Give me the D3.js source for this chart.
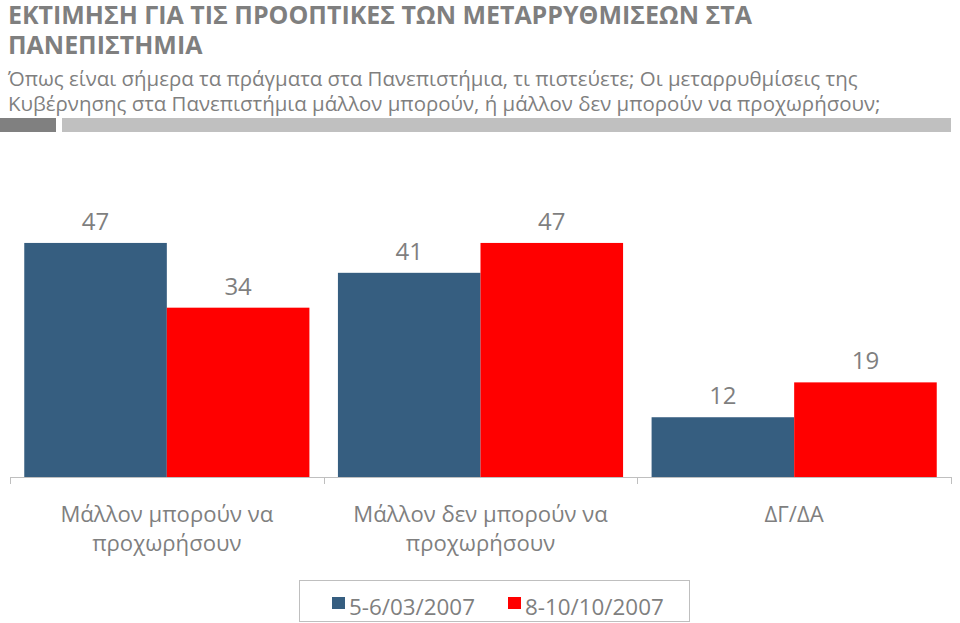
<!DOCTYPE html>
<html><head><meta charset="utf-8">
<script src="https://cdn.jsdelivr.net/npm/d3@7"></script>
<style>body{margin:0;background:#fff}svg{display:block}text{font-family:"Open Sans","Noto Sans",sans-serif}</style>
</head><body>
<script>
const categories = ["Μάλλον μπορούν να|προχωρήσουν", "Μάλλον δεν μπορούν να|προχωρήσουν", "ΔΓ/ΔΑ"];
const seriesNames = ["5-6/03/2007", "8-10/10/2007"];
const series1 = [47, 41, 12];
const series2 = [34, 47, 19];
const titleLines = ["ΕΚΤΙΜΗΣΗ ΓΙΑ ΤΙΣ ΠΡΟΟΠΤΙΚΕΣ ΤΩΝ ΜΕΤΑΡΡΥΘΜΙΣΕΩΝ ΣΤΑ", "ΠΑΝΕΠΙΣΤΗΜΙΑ"];
const subtitleLines = ["Όπως είναι σήμερα τα πράγματα στα Πανεπιστήμια, τι πιστεύετε; Οι μεταρρυθμίσεις της",
  "Κυβέρνησης στα Πανεπιστήμια μάλλον μπορούν, ή μάλλον δεν μπορούν να προχωρήσουν;"];
const colors = ["#365e80", "#ff0000"];
const gray = "#7f7f7f";

const W = 960, H = 623;
const svg = d3.select("body").append("svg").attr("width", W).attr("height", H);

function fitText(sel, targetW) {
  const node = sel.node();
  const fs = parseFloat(sel.attr("font-size"));
  const w = node.getComputedTextLength();
  if (w > 0) sel.attr("font-size", fs * targetW / w);
  return parseFloat(sel.attr("font-size"));
}

// Title
const t1 = svg.append("text").attr("x", 8).attr("y", 24).attr("font-size", 22).attr("font-weight", "bold").attr("fill", gray).text(titleLines[0]);
const tfs = fitText(t1, 744);
svg.append("text").attr("x", 8).attr("y", 54).attr("font-size", tfs).attr("font-weight", "bold").attr("fill", gray).text(titleLines[1]);
const s1 = svg.append("text").attr("x", 8).attr("y", 86).attr("font-size", 18).attr("fill", gray).text(subtitleLines[0]);
const sfs = fitText(s1, 850);
svg.append("text").attr("x", 8).attr("y", 111).attr("font-size", sfs).attr("fill", gray).text(subtitleLines[1]);

// Decorative bars
svg.append("rect").attr("x", 0).attr("y", 118).attr("width", 56).attr("height", 14).attr("fill", "#808080");
svg.append("rect").attr("x", 62).attr("y", 118).attr("width", 889).attr("height", 14).attr("fill", "#c0c0c0");

// Chart
const x0 = d3.scaleBand().domain(d3.range(categories.length)).range([10, 951]).paddingInner(0).paddingOuter(0);
const x1 = d3.scaleBand().domain([0, 1]).range([0, x0.bandwidth()]).paddingOuter(0.1).paddingInner(0);
const y = d3.scaleLinear().domain([0, 50]).range([477, 228]);

const data = categories.map((c, i) => [series1[i], series2[i]]);
const g = svg.append("g");
data.forEach((vals, i) => {
  vals.forEach((v, j) => {
    const bx = x0(i) + x1(j);
    g.append("rect").attr("x", bx).attr("y", y(v)).attr("width", x1.bandwidth()).attr("height", y(0) - y(v)).attr("fill", colors[j]);
    g.append("text").attr("x", bx + x1.bandwidth() / 2).attr("y", y(v) - 13).attr("text-anchor", "middle")
      .attr("font-size", 24).attr("fill", gray).text(v);
  });
});

// Axis
const axisG = svg.append("g").attr("transform", "translate(0,477)");
axisG.append("line").attr("x1", 10).attr("x2", 951).attr("y1", 0.5).attr("y2", 0.5).attr("stroke", "#bfbfbf");
const tickXs = d3.range(categories.length + 1).map(i => i < categories.length ? x0(i) : x0(i - 1) + x0.bandwidth());
tickXs.forEach(tx => axisG.append("line").attr("x1", Math.round(tx) + 0.5).attr("x2", Math.round(tx) + 0.5).attr("y1", 0).attr("y2", 7).attr("stroke", "#bfbfbf"));

// Category labels
let cfs = 22;
{
  const probe = svg.append("text").attr("font-size", 22).text(categories[0].split("|")[0]);
  cfs = fitText(probe, 213);
  probe.remove();
}
categories.forEach((c, i) => {
  const lines = c.split("|");
  lines.forEach((ln, k) => {
    svg.append("text").attr("x", x0(i) + x0.bandwidth() / 2).attr("y", 522 + k * 29).attr("text-anchor", "middle")
      .attr("font-size", cfs).attr("fill", gray).text(ln);
  });
});

// Legend
const lg = svg.append("g");
lg.append("rect").attr("x", 299.5).attr("y", 580.5).attr("width", 390).attr("height", 41).attr("fill", "#fff").attr("stroke", "#bfbfbf");
const legX = [332, 508];
let lfs = 22;
seriesNames.forEach((n, j) => {
  lg.append("rect").attr("x", legX[j]).attr("y", 597).attr("width", 13).attr("height", 12).attr("fill", colors[j]);
  const lt = lg.append("text").attr("x", legX[j] + 17).attr("y", 615).attr("font-size", lfs).attr("fill", gray).text(n);
  if (j === 0) lfs = fitText(lt, 126);
});
</script>
</body></html>
